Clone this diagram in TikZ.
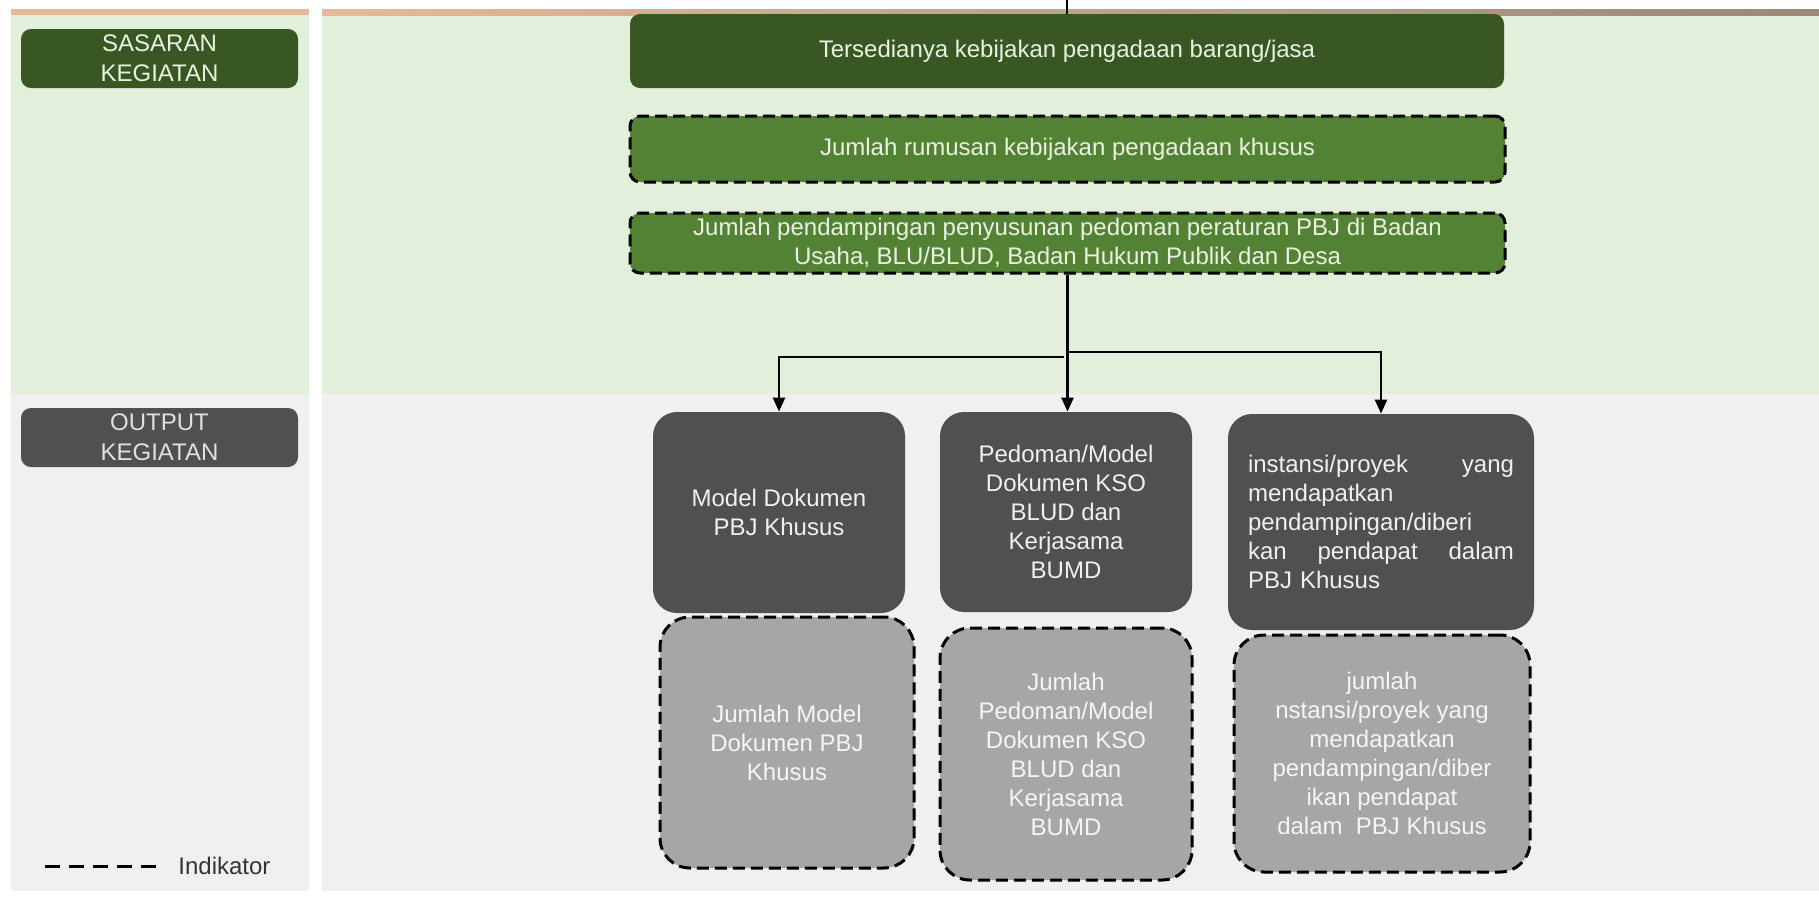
\documentclass[tikz,border=0pt]{standalone}
\usepackage{fontspec}
\setmainfont{Liberation Sans}
\usepackage{xcolor}
\usetikzlibrary{arrows.meta}
\definecolor{hijautua}{HTML}{385723}
\definecolor{hijau}{HTML}{548235}
\definecolor{hijaumuda}{HTML}{E2EFDA}
\definecolor{abutua}{HTML}{505050}
\definecolor{abu}{HTML}{A6A6A6}
\definecolor{abumuda}{HTML}{F0F0F0}
\definecolor{teks}{HTML}{EAF3E2}
\definecolor{peach}{HTML}{E8B89A}
\definecolor{coklat}{HTML}{9C8778}

\tikzset{
  kotak/.style={rounded corners=5pt, align=center, inner sep=0pt,
    font=\fontsize{12}{14.5}\selectfont},
  sasaran/.style={kotak, fill=hijautua, text=teks},
  rumusan/.style={kotak, fill=hijau, text=teks, draw=black, line width=1.5pt,
    dash pattern=on 6pt off 3pt},
  keluaran/.style={kotak, fill=abutua, text=white!94!black, rounded corners=12pt},
  indikator/.style={kotak, fill=abu, text=white!96!black, draw=black, line width=1.5pt,
    dash pattern=on 6pt off 3pt, rounded corners=15pt},
  panah/.style={-{Triangle[length=7pt,width=6pt]}, line width=1.2pt},
}

\begin{document}
\begin{tikzpicture}[x=0.5pt, y=-0.5pt]
  \useasboundingbox (0,0) rectangle (1819,896);
  % background panels
  \fill[hijaumuda] (11,15) rectangle (309,394);
  \fill[hijaumuda] (322,15) rectangle (1819,394);
  \fill[abumuda] (11,394) rectangle (309,891);
  \fill[abumuda] (322,394) rectangle (1819,891);
  \fill[peach] (11,9) rectangle (309,15);
  \shade[left color=peach, right color=coklat] (322,9) rectangle (1819,15);

  % left column: row labels and legend
  \node[sasaran, minimum width=138.5pt, minimum height=29.5pt,
    font=\fontsize{12}{15}\selectfont] (sas) at (159.5,58.5) {SASARAN\\KEGIATAN};
  \node[kotak, fill=abutua, text=white!88!black, minimum width=138.5pt, minimum height=29.5pt,
    font=\fontsize{12}{15}\selectfont] (out) at (159.5,437.5) {OUTPUT\\KEGIATAN};
  \coordinate (leg1) at (45,866);
  \coordinate (leg2) at (156,866);
  \draw[line width=1.5pt, dash pattern=on 7.5pt off 4.5pt] (leg1) -- (leg2);
  \node[kotak, anchor=west, text=black!80] (ket) at (178,866) {Indikator};

  % sasaran kegiatan
  \node[sasaran, minimum width=437pt, minimum height=37pt] (top) at (1067,51)
    {Tersedianya kebijakan pengadaan barang/jasa};
  \node[rumusan, minimum width=437.5pt, minimum height=33pt] (rum1) at (1067.5,149)
    {Jumlah rumusan kebijakan pengadaan khusus};
  \node[rumusan, minimum width=437.5pt, minimum height=30pt] (rum2) at (1067.5,243)
    {Jumlah pendampingan penyusunan pedoman peraturan PBJ di Badan\\
     Usaha, BLU/BLUD, Badan Hukum Publik dan Desa};
  \coordinate (atas) at (1067,0);
  \draw[line width=1pt] (atas) -- (top.north);

  % output kegiatan
  \node[keluaran, minimum width=126pt, minimum height=100.5pt] (A) at (779,512.5)
    {Model Dokumen\\PBJ Khusus};
  \node[keluaran, minimum width=126pt, minimum height=100pt] (B) at (1066,512)
    {Pedoman/Model\\Dokumen KSO\\BLUD dan\\Kerjasama\\BUMD};
  \node[keluaran, minimum width=153pt, minimum height=108pt, text width=133pt, align=left]
    (C) at (1381,522)
    {instansi/proyek\hfill yang\\mendapatkan\\pendampingan/diberi\\kan\hfill pendapat\hfill dalam\\PBJ Khusus};

  % indikator
  \node[indikator, minimum width=127pt, minimum height=125.5pt] (iA) at (787,742.5)
    {Jumlah Model\\Dokumen PBJ\\Khusus};
  \node[indikator, minimum width=126pt, minimum height=126pt] (iB) at (1066,754)
    {Jumlah\\Pedoman/Model\\Dokumen KSO\\BLUD dan\\Kerjasama\\BUMD};
  \node[indikator, minimum width=148pt, minimum height=118.5pt] (iC) at (1382,753.5)
    {jumlah\\nstansi/proyek yang\\mendapatkan\\pendampingan/diber\\ikan pendapat\\dalam~ PBJ Khusus};

  % connectors
  \coordinate (cabangkiri) at (1064,357);
  \coordinate (cabangkanan) at (1067.5,352);
  \draw[panah] (rum2.south) -- (rum2.south |- B.north);
  \draw[panah] (cabangkiri) -| (A.north);
  \draw[panah] (cabangkanan) -| (C.north);
\end{tikzpicture}
\end{document}
